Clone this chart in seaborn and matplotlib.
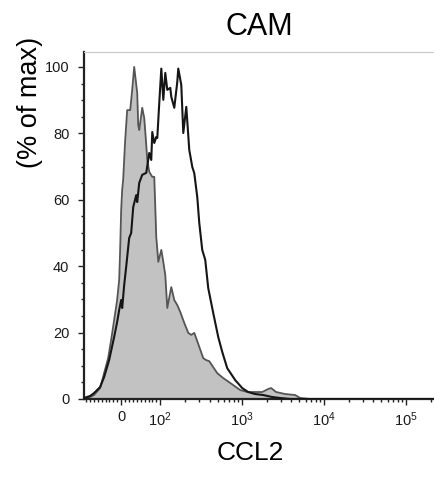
import numpy as np
import pandas as pd
import matplotlib
matplotlib.use('Agg')
import matplotlib.pyplot as plt
import seaborn as sns

# control (filled grey) histogram: CCL2 intensity vs % of max
ctrl_x = [-95, -79.5, -69.2, -53.8, -43.6, -33.3, -25.6, -17.9, -10.3, -5.1,
          -2.6, 0, 2.6, 5.1, 10.3, 15.4, 23.1, 28.2, 33.3, 41.0,
          43.6, 46.2, 53.8, 59.0, 64.1, 66.7, 71.8, 79.5, 84.6, 89.7,
          94.9, 102.9, 108.8, 115.1, 121.7, 136.2, 148.2, 161.2, 175.4, 196.3,
          219.7, 239.0, 260.0, 299.3, 334.6, 363.9, 395.9, 443.0, 495.6, 586.6,
          776.7, 945.4, 1151, 1441, 1753, 2075, 2258, 2598, 3345, 4430,
          5097, 6749, 20000, 220000]
ctrl_y = [0, 0.6, 1.2, 3.3, 7.8, 12.3, 17.8, 23.8, 29.8, 35.8,
          44.9, 56.9, 63.0, 66.0, 78.0, 87.0, 87.0, 93.1, 100.0, 92.2,
          82.5, 81.0, 87.7, 84.6, 76.5, 72.0, 68.4, 66.9, 66.9, 48.8,
          41.3, 44.9, 41.3, 37.3, 27.4, 33.7, 29.8, 28.3, 26.2, 22.9,
          19.9, 19.3, 19.9, 15.7, 12.3, 11.7, 11.4, 9.6, 7.8, 6.3,
          4.2, 2.7, 2.1, 2.1, 2.1, 3.0, 3.3, 2.1, 1.5, 1.2,
          0.3, 0, 0, 0]

# CAM sample (open black) histogram
cam_x = [-95, -79.5, -69.2, -53.8, -43.6, -30.8, -17.9, -10.3, -5.1, 0,
         2.6, 7.7, 12.8, 20.5, 25.6, 30.8, 38.5, 41.0, 46.2, 53.8,
         64.1, 71.8, 76.9, 79.5, 84.6, 89.7, 92.3, 97.4, 102.9, 108.8,
         115.1, 121.7, 132.4, 136.2, 148.2, 161.2, 165.8, 180.4, 190.9, 207.7,
         225.9, 245.8, 260.0, 282.9, 299.3, 325.3, 353.9, 385.0, 443.0, 509.7,
         570.4, 656.3, 821.6, 1000, 1184, 1441, 1804, 2322, 2907, 3850,
         20000, 220000]
cam_y = [0.3, 0.9, 1.8, 3.6, 6.6, 11.7, 18.7, 23.2, 26.8, 29.8,
         27.4, 34.3, 39.8, 48.5, 50.0, 57.8, 61.4, 59.3, 65.1, 67.5,
         68.1, 74.1, 72.0, 80.4, 77.1, 78.9, 78.6, 89.2, 99.5, 90.1,
         98.2, 93.1, 93.7, 91.0, 87.7, 95.5, 99.5, 94.6, 80.1, 88.0,
         75.0, 69.9, 68.0, 60.8, 53.0, 44.9, 41.9, 33.4, 25.9, 18.7,
         14.2, 9.3, 5.7, 3.3, 2.1, 1.5, 1.2, 0.6, 0.3, 0,
         0, 0]

x_major = [0, 1e2, 1e3, 1e4, 1e5]
x_major_labels = ['0', r'$\mathregular{10^2}$', r'$\mathregular{10^3}$',
                  r'$\mathregular{10^4}$', r'$\mathregular{10^5}$']
y_major = [0, 20, 40, 60, 80, 100]

sns.set_style('ticks')
plt.rcParams['font.family'] = ['Liberation Sans', 'DejaVu Sans']
plt.rcParams['text.color'] = 'black'
plt.rcParams['axes.labelcolor'] = 'black'

fig = plt.figure(figsize=(4.34, 4.8), dpi=100)
ax = fig.add_axes([84 / 434, 81 / 480, 350 / 434, 347 / 480])

ax.fill_between(ctrl_x, ctrl_y, 0, color='#c2c2c2', lw=0, zorder=1)
sns.lineplot(x=ctrl_x, y=ctrl_y, ax=ax, color='#555555', lw=1.3,
             estimator=None, sort=False, zorder=2)
sns.lineplot(x=cam_x, y=cam_y, ax=ax, color='#151515', lw=1.5,
             estimator=None, sort=False, zorder=3)

ax.set_xscale('symlog', linthresh=100, linscale=0.43)
ax.set_xlim(-95, 2.2e5)
ax.set_ylim(0, 104.5)

# ticks
ax.set_xticks(x_major)
ax.set_xticklabels(x_major_labels)
minor = [-s for s in range(10, 100, 10)] + list(range(10, 100, 10))
for d in [100, 1000, 10000, 100000]:
    minor += [d * s for s in range(2, 10) if d * s < 2.2e5]
ax.set_xticks(minor, minor=True)
ax.set_yticks(y_major)
ax.set_yticks(np.arange(0, 101, 5), minor=True)

ax.tick_params(axis='both', which='major', direction='out', length=4.5, width=1,
               labelsize=10.5, color='#222222', labelcolor='#1a1a1a')
ax.tick_params(axis='x', which='major', pad=3.5)
ax.tick_params(axis='y', which='major', pad=6)
ax.tick_params(axis='both', which='minor', direction='out', length=2.2, width=1,
               color='#222222')

for side in ['left', 'bottom']:
    ax.spines[side].set_linewidth(1.6)
    ax.spines[side].set_color('#222222')
ax.spines['right'].set_visible(False)
ax.spines['top'].set_linewidth(0.8)
ax.spines['top'].set_color('#c8c8c8')

ax.set_title('CAM', fontsize=22, pad=12, color='black')
ax.set_xlabel('CCL2', fontsize=19)
ax.xaxis.set_label_coords(0.474, -0.122)
ax.set_ylabel('(% of max)', fontsize=19.5)
ax.yaxis.set_label_coords(-0.117, 0.856)

fig.savefig('out.png', dpi=100)
